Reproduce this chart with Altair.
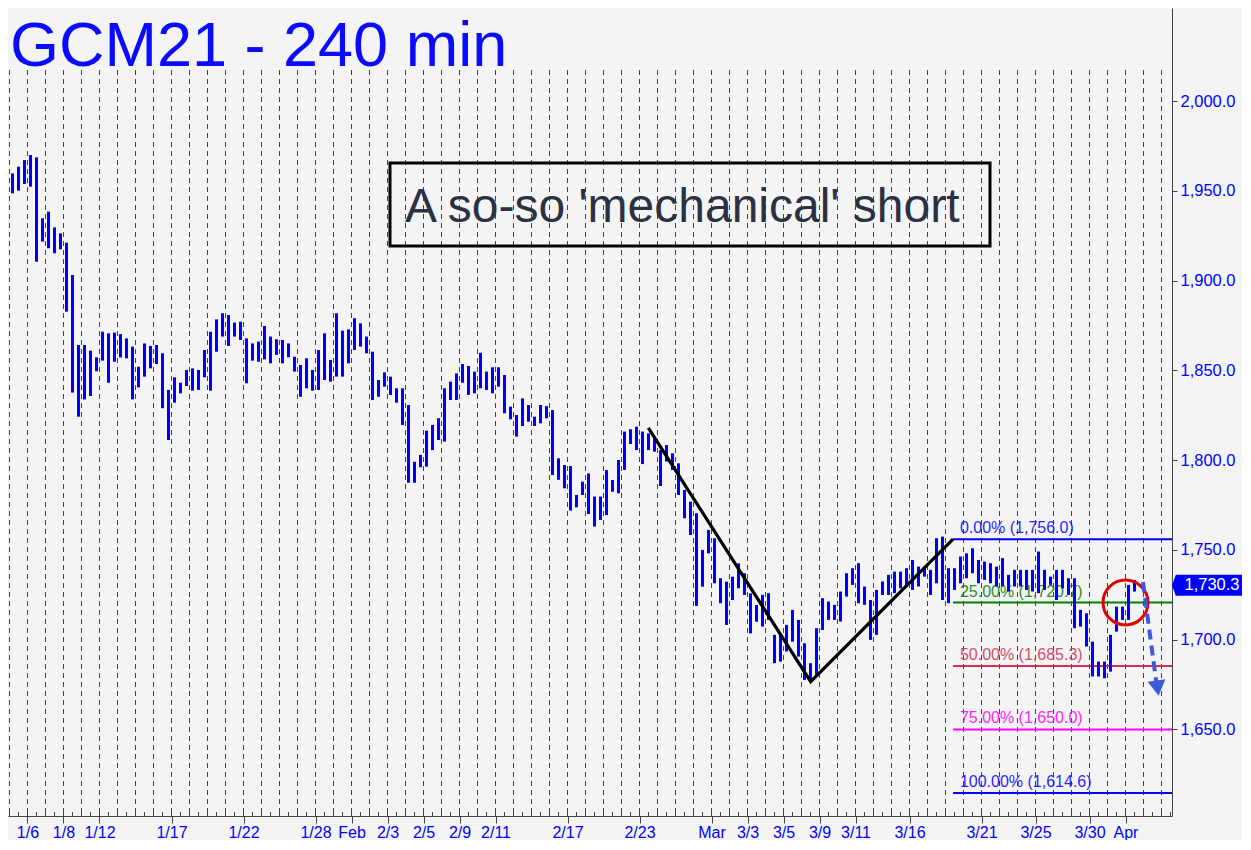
import altair as alt
import pandas as pd

# ---------------- data ----------------
# 240-min bars, three samples per trading day (high / low envelope)
highs = [1956.4, 1959.7, 1963.4, 1967.1, 1969.9, 1968.6, 1934.7, 1938.4, 1929.6, 1926.3,
         1921.1, 1903.1, 1864.1, 1864.1, 1861.0, 1857.2, 1871.5, 1870.6, 1871.0, 1870.2,
         1867.8, 1863.2, 1852.0, 1865.0, 1863.6, 1864.1, 1859.5, 1839.1, 1846.1, 1843.1,
         1850.2, 1851.1, 1850.2, 1861.3, 1871.5, 1878.4, 1881.8, 1880.8, 1876.6, 1877.1,
         1867.8, 1865.0, 1866.0, 1874.7, 1868.8, 1867.3, 1866.9, 1865.0, 1857.6, 1853.0,
         1856.7, 1850.2, 1861.3, 1870.6, 1855.8, 1881.8, 1872.1, 1872.8, 1879.0, 1876.2,
         1868.8, 1860.4, 1844.6, 1848.9, 1846.5, 1840.0, 1840.0, 1830.7, 1799.1, 1802.9,
         1816.4, 1819.6, 1823.3, 1840.0, 1843.7, 1848.3, 1853.5, 1852.4, 1849.3, 1859.8,
         1849.3, 1851.7, 1851.7, 1847.4, 1829.8, 1825.1, 1834.4, 1830.7, 1824.2, 1830.7,
         1830.1, 1827.9, 1801.0, 1797.3, 1796.7, 1780.6, 1788.0, 1792.6, 1779.7, 1779.7,
         1794.5, 1788.9, 1800.1, 1815.9, 1817.2, 1818.6, 1815.9, 1814.9, 1813.1, 1805.6,
         1808.4, 1803.8, 1798.2, 1783.4, 1776.9, 1770.4, 1750.0, 1761.1, 1756.5, 1734.2,
         1732.3, 1735.1, 1742.5, 1737.0, 1725.8, 1719.3, 1725.0, 1725.9, 1702.7, 1702.7,
         1708.2, 1716.6, 1711.0, 1698.0, 1686.9, 1706.4, 1723.1, 1721.2, 1719.4, 1726.8,
         1737.0, 1739.8, 1742.6, 1729.6, 1722.1, 1727.7, 1732.4, 1736.1, 1737.9, 1737.9,
         1739.8, 1744.4, 1740.7, 1740.7, 1738.9, 1756.5, 1757.4, 1739.8, 1739.8, 1746.3,
         1748.1, 1750.9, 1744.4, 1743.5, 1742.6, 1740.7, 1745.4, 1736.1, 1738.9, 1738.9,
         1738.9, 1738.9, 1749.1, 1738.9, 1735.1, 1738.9, 1738.9, 1734.2, 1734.2, 1716.6,
         1714.7, 1698.9, 1687.8, 1687.8, 1702.7, 1718.4, 1718.4, 1730.5, 1733.3]
lows = [1946.4, 1948.6, 1950.1, 1953.8, 1952.3, 1910.5, 1921.7, 1918.0, 1915.2, 1917.4,
        1882.7, 1837.6, 1824.2, 1833.8, 1835.7, 1849.5, 1855.4, 1843.1, 1854.8, 1857.2,
        1856.7, 1833.8, 1840.5, 1846.5, 1851.1, 1853.5, 1828.9, 1811.2, 1832.0, 1837.2,
        1841.3, 1838.7, 1839.1, 1846.1, 1838.7, 1860.4, 1868.8, 1863.6, 1868.8, 1866.9,
        1842.8, 1855.4, 1854.8, 1856.1, 1853.9, 1858.6, 1853.9, 1857.3, 1849.3, 1835.3,
        1840.0, 1838.7, 1839.1, 1844.6, 1843.7, 1846.5, 1846.5, 1853.9, 1861.3, 1863.2,
        1859.5, 1833.5, 1835.3, 1840.9, 1836.3, 1832.0, 1819.6, 1787.4, 1787.4, 1796.0,
        1796.4, 1805.6, 1811.2, 1810.3, 1833.5, 1833.5, 1843.1, 1836.3, 1837.2, 1840.0,
        1839.1, 1837.2, 1840.9, 1826.1, 1822.7, 1813.1, 1819.0, 1821.4, 1819.0, 1820.5,
        1823.3, 1791.7, 1789.0, 1784.3, 1771.9, 1773.7, 1780.6, 1770.0, 1763.0, 1766.7,
        1769.4, 1782.4, 1781.5, 1794.5, 1809.0, 1805.6, 1797.8, 1805.6, 1804.7, 1785.6,
        1799.2, 1794.5, 1780.6, 1767.6, 1758.3, 1718.8, 1729.5, 1748.1, 1731.4, 1720.3,
        1708.2, 1722.1, 1728.6, 1724.9, 1703.5, 1710.0, 1707.3, 1711.0, 1686.9, 1687.8,
        1693.4, 1698.9, 1690.6, 1677.6, 1677.6, 1680.4, 1705.4, 1711.0, 1711.0, 1710.1,
        1724.0, 1730.5, 1720.3, 1719.4, 1699.9, 1702.7, 1724.9, 1724.9, 1725.9, 1728.6,
        1729.6, 1727.7, 1729.6, 1735.1, 1724.9, 1731.4, 1722.1, 1720.3, 1727.7, 1731.4,
        1734.2, 1737.0, 1731.4, 1733.3, 1731.4, 1729.6, 1729.6, 1726.8, 1729.6, 1729.6,
        1727.7, 1726.8, 1725.9, 1727.7, 1730.5, 1722.1, 1728.6, 1724.9, 1706.4, 1707.3,
        1696.2, 1679.5, 1679.5, 1678.5, 1682.2, 1704.5, 1711.0, 1711.0, 1726.8]

# x-axis: trading-day index of each labelled session
label_days = [1, 3, 5, 9, 13, 17, 19, 21, 23, 25, 27, 31, 35, 39, 41, 43, 45, 47, 50, 54, 57, 60, 62]
label_text = ["1/6", "1/8", "1/12", "1/17", "1/22", "1/28", "Feb", "2/3", "2/5", "2/9", "2/11",
              "2/17", "2/23", "Mar", "3/3", "3/5", "3/9", "3/11", "3/16", "3/21", "3/25", "3/30", "Apr"]
price_ticks = [1650, 1700, 1750, 1800, 1850, 1900, 1950, 2000]

# A-B-C swing drawn in black
swing_days = [35.49, 44.51, 52.42]
swing_prices = [1818.0, 1676.6, 1756.0]

# Fibonacci projection levels
fib_pct = ["0.00%", "25.00%", "50.00%", "75.00%", "100.00%"]
fib_levels = [1756.0, 1720.7, 1685.3, 1650.0, 1614.6]
fib_colors = ["#0000ff", "#008000", "#d03050", "#ff00ff", "#0000ff"]
fib_start_day = 52.42
fib_label_day = 52.8

last_price = 1730.3
circle_day, circle_price = 62.0, 1720.7
arrow_days = [62.97, 63.70]
arrow_prices = [1732.1, 1677.0]

# ---------------- tables ----------------
bars = pd.DataFrame({
    "day": [i / 3 - 1 / 6 for i in range(len(highs))],
    "high": highs,
    "low": lows,
})
grid = pd.DataFrame({"day": list(range(0, 65))})
minor = pd.DataFrame({"day": [h / 2 for h in range(0, 130)]})
swing = pd.DataFrame({"day": swing_days, "price": swing_prices})
fib = pd.DataFrame({
    "start": [fib_start_day] * len(fib_levels),
    "lday": [fib_label_day] * len(fib_levels),
    "level": fib_levels,
    "color": fib_colors,
    "label": [f"{p} ({v:,.1f})" for p, v in zip(fib_pct, fib_levels)],
})
arrow = pd.DataFrame({"day": arrow_days, "price": arrow_prices})
one = pd.DataFrame({"a": [0]})

FONT = "Liberation Sans"
BLUE = "#0000ff"

xscale = alt.Scale(domain=[-0.0833, 64.583], nice=False, zero=False)
yscale = alt.Scale(domain=[1601.8, 2051.8], nice=False, zero=False)

label_expr = " : ".join(
    [f"datum.value == {d} ? '{t}'" for d, t in zip(label_days, label_text)]
) + " : ''"

x_axis = alt.Axis(values=label_days, labelExpr=label_expr, tickSize=7, tickColor="#444444",
                  domainColor="#444444", labelColor=BLUE, labelFontSize=16, labelFont=FONT,
                  labelPadding=1, labelFlush=False, labelOverlap=False, grid=False, title=None)
y_axis = alt.Axis(orient="right", values=price_ticks, format=",.1f", tickSize=5,
                  tickColor="#444444", domainColor="#444444", labelColor=BLUE,
                  labelFontSize=16.5, labelFont=FONT, labelPadding=3, grid=False, title=None)


def X(field):
    return alt.X(field, type="quantitative", scale=xscale, axis=x_axis)


def Y(field):
    return alt.Y(field, type="quantitative", scale=yscale, axis=y_axis)


gridlines = alt.Chart(grid).mark_rule(color="#444444", strokeWidth=1, strokeDash=[5, 4]).encode(
    x=X("day"), y=alt.value(62), y2=alt.value(808),
)
minor_ticks = alt.Chart(minor).mark_rule(color="#444444", strokeWidth=1).encode(
    x=X("day"), y=alt.value(804), y2=alt.value(808),
)

ohlc = alt.Chart(bars).mark_rule(color=BLUE, strokeWidth=3, clip=True).encode(
    x=X("day"), y=Y("low"), y2="high",
)

fib_lines = alt.Chart(fib).mark_rule(strokeWidth=2).encode(
    x=X("start"), x2=alt.value(1164), y=Y("level"),
    color=alt.Color("color:N", scale=None),
)
fib_text = alt.Chart(fib).mark_text(align="left", baseline="alphabetic", dy=-6, fontSize=16,
                                    font=FONT, opacity=0.85).encode(
    x=X("lday"), y=Y("level"), text="label:N",
    color=alt.Color("color:N", scale=None),
)

swing_line = alt.Chart(swing).mark_line(color="#000000", strokeWidth=3.2).encode(
    x=X("day"), y=Y("price"),
)

circle = alt.Chart(one).mark_point(shape="circle", size=2025, filled=False,
                                   color="#e00000", strokeWidth=3, opacity=1).encode(
    x=alt.datum(circle_day, scale=xscale, axis=x_axis),
    y=alt.datum(circle_price, scale=yscale, axis=y_axis),
)

arrow_line = alt.Chart(arrow).mark_line(color="#3b5bdb", strokeWidth=4, strokeDash=[10, 6]).encode(
    x=X("day"), y=Y("price"),
)
arrow_head = alt.Chart(one).mark_point(shape="triangle-down", size=320, filled=True,
                                       color="#3b5bdb", angle=352, opacity=1).encode(
    x=alt.datum(arrow_days[-1] + 0.08, scale=xscale, axis=x_axis),
    y=alt.datum(arrow_prices[-1] - 4.0, scale=yscale, axis=y_axis),
)

tag = alt.Chart(one).mark_point(
    shape="M-1,0L-0.89,-0.3L1,-0.3L1,0.3L-0.89,0.3Z", size=4900, filled=True,
    color=BLUE, opacity=1).encode(
    x=alt.value(1199),
    y=alt.datum(last_price, scale=yscale, axis=y_axis),
)
tag_text = alt.Chart(one).mark_text(align="center", baseline="middle", fontSize=16.5, font=FONT,
                                    color="#ffffff").encode(
    x=alt.value(1204),
    y=alt.datum(last_price, scale=yscale, axis=y_axis),
    text=alt.value(f"{last_price:,.1f}"),
)

title = alt.Chart(one).mark_text(align="left", baseline="alphabetic", fontSize=63, font=FONT,
                                 color="#0a0aff").encode(
    x=alt.value(2), y=alt.value(58), text=alt.value("GCM21 - 240 min"),
)
box = alt.Chart(one).mark_rect(fillOpacity=0, stroke="#000000", strokeWidth=3).encode(
    x=alt.value(382), x2=alt.value(982), y=alt.value(155), y2=alt.value(238),
)
box_text = alt.Chart(one).mark_text(align="left", baseline="alphabetic", fontSize=48, font=FONT,
                                    color="#2b3142").encode(
    x=alt.value(397), y=alt.value(214), text=alt.value("A so-so 'mechanical' short"),
)

chart = alt.layer(
    gridlines, minor_ticks, fib_lines, fib_text, ohlc, swing_line, circle,
    arrow_line, arrow_head, tag, tag_text, title, box, box_text,
).properties(
    width=1164, height=808, padding=0, background="#f4f4f4",
).configure_view(stroke=None)

chart.save("out.html", embed_options={"renderer": "svg", "actions": False})
